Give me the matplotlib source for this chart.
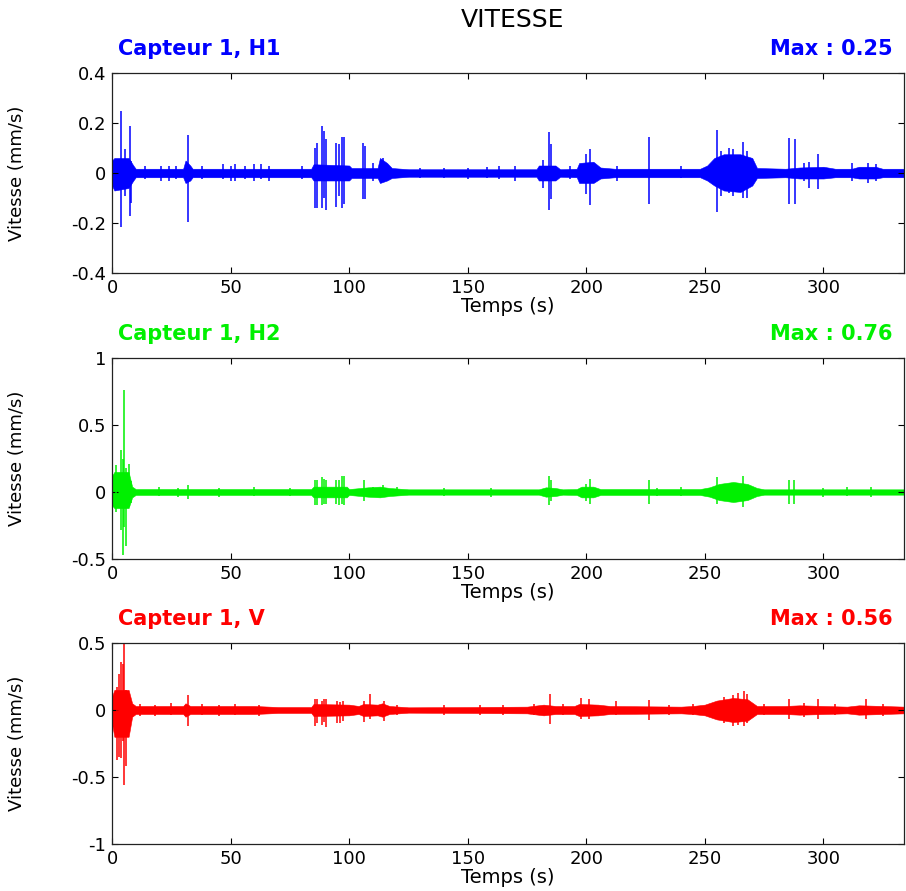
import matplotlib
matplotlib.use("Agg")
import matplotlib.pyplot as plt
from matplotlib.ticker import FormatStrFormatter

plt.rcParams['font.family'] = 'DejaVu Sans'
plt.rcParams['axes.unicode_minus'] = False

# time axis (s)
t_max = 334
x_ticks = [0, 50, 100, 150, 200, 250, 300]

# --- Capteur 1, H1 : background noise envelope + isolated peaks (mm/s)
h1_band_t = [0, 1, 7, 9, 10, 30, 31, 33, 34, 84, 85, 100, 101, 112, 113, 116, 118, 125,
             179, 180, 187, 189, 196, 197, 203, 206, 212, 248, 251, 254, 258, 265, 270,
             272, 284, 290, 300, 305, 312, 315, 322, 325, 334]
h1_band_hi = [0.05, 0.06, 0.06, 0.03, 0.017, 0.017, 0.05, 0.03, 0.017, 0.017, 0.035, 0.03,
              0.02, 0.02, 0.06, 0.04, 0.02, 0.015, 0.015, 0.03, 0.03, 0.015, 0.017, 0.04,
              0.045, 0.022, 0.017, 0.017, 0.03, 0.06, 0.075, 0.075, 0.06, 0.02, 0.017, 0.022,
              0.025, 0.017, 0.017, 0.025, 0.025, 0.017, 0.017]
h1_band_lo = [-0.05, -0.07, -0.06, -0.03, -0.017, -0.017, -0.04, -0.03, -0.017, -0.017,
              -0.03, -0.03, -0.02, -0.02, -0.04, -0.03, -0.02, -0.015, -0.015, -0.03, -0.03,
              -0.015, -0.017, -0.04, -0.04, -0.022, -0.017, -0.017, -0.03, -0.05, -0.07,
              -0.076, -0.05, -0.02, -0.017, -0.022, -0.022, -0.017, -0.017, -0.022, -0.022,
              -0.017, -0.017]
h1_peak_t = [3.7, 5.5, 7.6, 8.0, 14, 20.5, 24, 27, 32.0, 38, 47, 50, 52, 56, 60, 63, 66, 80,
             85.6, 86.4, 88.5, 89.3, 90.4, 94.4, 95.8, 97.2, 97.9, 105.7, 106.5, 110, 114.3,
             130, 140, 150, 158, 163, 170, 181.7, 184.5, 185.2, 193, 199.7, 201.7, 213,
             226.6, 240, 255.0, 257, 260, 262, 265.9, 268, 285.6, 287.9, 292, 294, 297.9,
             312, 319.0, 322]
h1_peak_hi = [0.25, 0.095, 0.188, 0.05, 0.03, 0.03, 0.028, 0.03, 0.152, 0.03, 0.035, 0.03,
              0.035, 0.03, 0.035, 0.035, 0.03, 0.028, 0.10, 0.121, 0.188, 0.168, 0.137, 0.121,
              0.117, 0.144, 0.144, 0.121, 0.108, 0.04, 0.061, 0.02, 0.022, 0.02, 0.025, 0.03,
              0.03, 0.054, 0.165, 0.115, 0.03, 0.077, 0.098, 0.03, 0.144, 0.028, 0.171, 0.09,
              0.10, 0.095, 0.124, 0.09, 0.141, 0.137, 0.04, 0.045, 0.077, 0.04, 0.04, 0.035]
h1_peak_lo = [-0.215, -0.092, -0.172, -0.12, -0.025, -0.03, -0.03, -0.025, -0.195, -0.025,
              -0.025, -0.03, -0.03, -0.025, -0.03, -0.025, -0.03, -0.025, -0.139, -0.139,
              -0.139, -0.10, -0.149, -0.135, -0.092, -0.139, -0.123, -0.103, -0.105, -0.03,
              -0.031, -0.02, -0.02, -0.022, -0.02, -0.025, -0.03, -0.059, -0.149, -0.105,
              -0.025, -0.083, -0.128, -0.03, -0.123, -0.02, -0.155, -0.09, -0.08, -0.09,
              -0.099, -0.10, -0.123, -0.123, -0.03, -0.06, -0.065, -0.03, -0.04, -0.03]

# --- Capteur 1, H2
h2_band_t = [0, 1, 7, 8.5, 10, 84, 85, 99, 100, 105, 108, 113, 117, 125, 180, 183, 187, 190,
             196, 198, 203, 206, 248, 252, 256, 262, 268, 272, 275, 334]
h2_band_hi = [0.12, 0.15, 0.15, 0.04, 0.022, 0.022, 0.04, 0.04, 0.022, 0.03, 0.035, 0.04,
              0.03, 0.02, 0.02, 0.035, 0.03, 0.02, 0.022, 0.04, 0.04, 0.022, 0.022, 0.035,
              0.06, 0.075, 0.06, 0.03, 0.02, 0.02]
h2_band_lo = [-0.10, -0.12, -0.12, -0.04, -0.022, -0.022, -0.04, -0.04, -0.022, -0.03,
              -0.035, -0.04, -0.03, -0.02, -0.02, -0.035, -0.03, -0.02, -0.022, -0.04, -0.04,
              -0.022, -0.022, -0.035, -0.06, -0.075, -0.06, -0.03, -0.02, -0.02]
h2_peak_t = [1.6, 3.8, 4.5, 5.2, 5.9, 7.3, 8.0, 20, 28, 32.0, 45, 60, 75, 85.6, 86.4, 88.5,
             89.3, 90.4, 94.4, 95.8, 97.2, 97.9, 106.1, 110, 114.3, 120, 140, 160, 184.5,
             185.2, 199.7, 201.7, 226.6, 230, 240, 255.0, 265.9, 285.6, 287.8, 300, 310, 320]
h2_peak_hi = [0.2, 0.313, 0.25, 0.76, 0.18, 0.21, 0.08, 0.035, 0.03, 0.049, 0.03, 0.035,
              0.03, 0.09, 0.09, 0.11, 0.10, 0.09, 0.09, 0.09, 0.118, 0.12, 0.09, 0.035, 0.05,
              0.035, 0.03, 0.03, 0.116, 0.09, 0.06, 0.10, 0.09, 0.03, 0.035, 0.11, 0.116,
              0.09, 0.09, 0.03, 0.035, 0.035]
h2_peak_lo = [-0.15, -0.283, -0.468, -0.26, -0.40, -0.11, -0.08, -0.03, -0.035, -0.05,
              -0.035, -0.03, -0.03, -0.10, -0.10, -0.10, -0.09, -0.09, -0.09, -0.10, -0.09,
              -0.10, -0.07, -0.03, -0.04, -0.03, -0.03, -0.035, -0.10, -0.07, -0.07, -0.087,
              -0.087, -0.03, -0.03, -0.09, -0.11, -0.087, -0.087, -0.035, -0.03, -0.035]

# --- Capteur 1, V
v_band_t = [0, 1, 7, 8.5, 10, 30, 31, 33, 60, 70, 84, 85, 100, 104, 106, 112, 114, 117, 125,
            150, 175, 182, 187, 195, 197, 205, 210, 240, 245, 250, 255, 262, 268, 272, 284,
            290, 300, 310, 315, 325, 334]
v_band_hi = [0.10, 0.15, 0.15, 0.05, 0.03, 0.03, 0.05, 0.03, 0.03, 0.022, 0.022, 0.045, 0.04,
             0.03, 0.045, 0.04, 0.05, 0.03, 0.02, 0.022, 0.025, 0.04, 0.03, 0.03, 0.045, 0.04,
             0.03, 0.025, 0.03, 0.04, 0.07, 0.09, 0.08, 0.03, 0.03, 0.035, 0.03, 0.025, 0.035,
             0.03, 0.025]
v_band_lo = [-0.10, -0.20, -0.20, -0.05, -0.03, -0.03, -0.05, -0.03, -0.03, -0.022, -0.022,
             -0.045, -0.04, -0.03, -0.045, -0.04, -0.05, -0.03, -0.02, -0.022, -0.025, -0.04,
             -0.03, -0.03, -0.045, -0.04, -0.03, -0.025, -0.03, -0.04, -0.07, -0.09, -0.08,
             -0.03, -0.03, -0.035, -0.03, -0.025, -0.035, -0.03, -0.025]
v_peak_t = [2.2, 3.1, 3.8, 4.5, 5.1, 5.9, 7.3, 12, 18, 25, 32.0, 38, 45, 52, 62, 85.6, 86.4,
            88.5, 89.3, 90.4, 95.0, 96.2, 97.6, 106.1, 108.7, 114.6, 120, 140, 155, 165, 178,
            184.7, 190, 197.8, 201.0, 212.6, 226.6, 235, 245, 258, 262, 264, 266.5, 268, 275,
            285.6, 292, 297.9, 305, 317.9, 325]
v_peak_hi = [0.17, 0.27, 0.36, 0.34, 0.50, 0.15, 0.10, 0.045, 0.04, 0.05, 0.11, 0.045, 0.04,
             0.045, 0.04, 0.08, 0.08, 0.07, 0.08, 0.08, 0.07, 0.06, 0.07, 0.07, 0.118, 0.07,
             0.04, 0.035, 0.04, 0.04, 0.045, 0.118, 0.045, 0.093, 0.085, 0.064, 0.076, 0.04,
             0.045, 0.10, 0.11, 0.13, 0.14, 0.12, 0.045, 0.08, 0.05, 0.08, 0.045, 0.08, 0.045]
v_peak_lo = [-0.375, -0.35, -0.36, -0.23, -0.56, -0.42, -0.15, -0.045, -0.045, -0.04, -0.116,
             -0.04, -0.045, -0.04, -0.045, -0.12, -0.10, -0.11, -0.09, -0.13, -0.10, -0.10,
             -0.08, -0.09, -0.07, -0.08, -0.035, -0.04, -0.035, -0.04, -0.04, -0.108, -0.04,
             -0.07, -0.07, -0.04, -0.078, -0.035, -0.04, -0.10, -0.12, -0.11, -0.12, -0.10,
             -0.04, -0.07, -0.05, -0.065, -0.04, -0.07, -0.045]

channels = [
    ("Capteur 1, H1", "#0000ff", (-0.4, 0.4), [-0.4, -0.2, 0, 0.2, 0.4],
     h1_band_t, h1_band_hi, h1_band_lo, h1_peak_t, h1_peak_hi, h1_peak_lo),
    ("Capteur 1, H2", "#00f000", (-0.5, 1), [-0.5, 0, 0.5, 1],
     h2_band_t, h2_band_hi, h2_band_lo, h2_peak_t, h2_peak_hi, h2_peak_lo),
    ("Capteur 1, V", "#ff0000", (-1, 0.5), [-1, -0.5, 0, 0.5],
     v_band_t, v_band_hi, v_band_lo, v_peak_t, v_peak_hi, v_peak_lo),
]

fig = plt.figure(figsize=(9.06, 8.91), dpi=100)
W, H = 906.0, 891.0
# axes boxes in pixels: left, top, right, bottom
boxes = [(112, 73, 904, 273), (112, 358, 904, 559), (112, 643, 904, 844)]

for (name, color, ylim, yticks, bt, bhi, blo, pt, phi, plo), box in zip(channels, boxes):
    l, t, r, b = box
    ax = fig.add_axes([l / W, 1 - b / H, (r - l) / W, (b - t) / H])

    ax.fill_between(bt, blo, bhi, color=color, lw=0.4, edgecolor=color)
    ax.vlines(pt, plo, phi, color=color, lw=1.1)

    vmax = max(max(abs(v) for v in phi), max(abs(v) for v in plo))

    ax.set_xlim(0, t_max)
    ax.set_ylim(*ylim)
    ax.set_xticks(x_ticks)
    ax.set_yticks(yticks)
    ax.xaxis.set_major_formatter(FormatStrFormatter('%g'))
    ax.yaxis.set_major_formatter(FormatStrFormatter('%g'))
    ax.tick_params(direction='in', top=True, right=True, length=4, width=0.8,
                   labelsize=13, pad=4)
    for sp in ax.spines.values():
        sp.set_color('#222222')
        sp.set_linewidth(0.9)

    ax.set_xlabel("Temps (s)", fontsize=14, labelpad=0)
    ax.set_ylabel("Vitesse (mm/s)", fontsize=13)
    ax.yaxis.set_label_coords(-0.108, 0.5)

    ax.annotate(name, xy=(0, 1), xycoords='axes fraction', xytext=(6, 18),
                textcoords='offset pixels', ha='left', va='baseline',
                color=color, fontsize=15, fontweight='bold')
    ax.annotate("Max : %.2f" % vmax, xy=(1, 1), xycoords='axes fraction',
                xytext=(-11, 18), textcoords='offset pixels', ha='right', va='baseline',
                color=color, fontsize=15, fontweight='bold')

fig.text(513 / W, 1 - 20 / H, "VITESSE", ha='center', va='center', fontsize=18)

fig.savefig("out.png", dpi=100)
